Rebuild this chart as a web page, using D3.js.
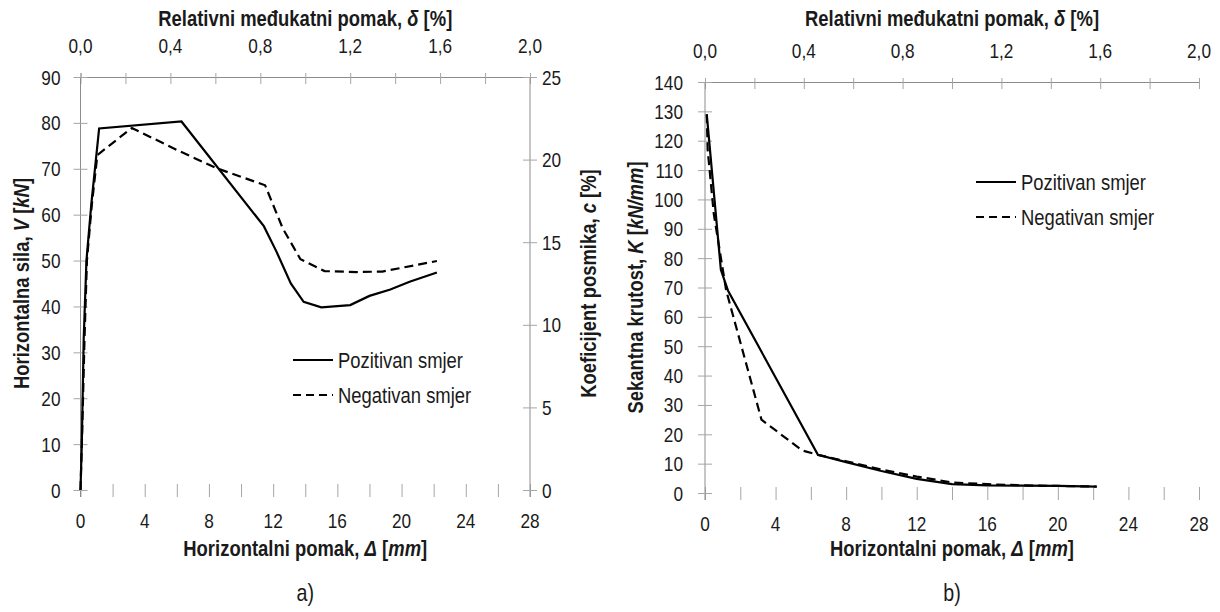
<!DOCTYPE html>
<html><head><meta charset="utf-8">
<script src="https://cdn.jsdelivr.net/npm/d3@7"></script>
<style>
body{margin:0;background:#fff}
svg{font-family:"Liberation Sans",Arial,sans-serif}
text{fill:#1a1a1a}
</style>
</head><body>
<svg id="chart" width="1220" height="612"></svg>
<script>
// ---------- data ----------
const dispTicks = [0, 4, 8, 12, 16, 20, 24, 28];
const dispMinorTicks = [0, 2, 4, 6, 8, 10, 12, 14, 16, 18, 20, 22, 24, 26, 28];
const driftTicks = [0, 0.4, 0.8, 1.2, 1.6, 2.0];
const driftMinorTicks = [0, 0.2, 0.4, 0.6, 0.8, 1.0, 1.2, 1.4, 1.6, 1.8, 2.0];
const forceTicks = [0, 10, 20, 30, 40, 50, 60, 70, 80, 90];
const coefTicks = [0, 5, 10, 15, 20, 25];
const stiffTicks = [0, 10, 20, 30, 40, 50, 60, 70, 80, 90, 100, 110, 120, 130, 140];
const seriesNames = ["Pozitivan smjer", "Negativan smjer"];

// a) force vs displacement
const forcePosDisp = [0, 0.08, 0.2, 0.37, 0.68, 1.16, 6.29, 11.42, 12.2, 13.1, 13.9, 15.0, 16.8, 18.0, 19.3, 20.5, 22.2];
const forcePosV    = [0, 10, 33, 50, 62.5, 78.8, 80.3, 57.5, 52, 45, 41, 39.8, 40.3, 42.3, 43.7, 45.4, 47.4];
const forceNegDisp = [0, 0.1, 0.25, 0.4, 0.7, 1.05, 3.2, 6.0, 8.5, 11.5, 12.6, 13.7, 15.2, 17.2, 18.8, 22.2];
const forceNegV    = [0, 12, 33, 50, 62, 73, 78.9, 74.1, 70.1, 66.4, 57, 50.3, 47.7, 47.5, 47.6, 49.9];

// b) secant stiffness vs displacement
const stiffPosDisp = [0.1, 0.9, 1.3, 6.4, 8, 10, 12, 14, 16, 18, 20, 22.2];
const stiffPosK    = [129, 76, 69, 13, 10.5, 7.5, 4.8, 3.0, 2.6, 2.5, 2.4, 2.2];
const stiffNegDisp = [0.1, 0.15, 0.5, 1.2, 3.2, 5.5, 6.4, 8, 10, 12, 14, 16, 18, 20, 22.2];
const stiffNegK    = [129, 117, 95, 69, 25, 14.5, 13, 10.8, 8, 5.6, 3.6, 3.0, 2.6, 2.4, 2.2];

// ---------- drawing ----------
const SX = 0.82;   // condensed look of the original typeface
const FS_TICK = 21, FS_TITLE = 22.5, FS_LEG = 22.5, FS_LAB = 24;
const svg = d3.select("#chart");
const AX = "#8c8c8c", TK = "#a6a6a6";
const fmtDrift = d => d3.format(".1f")(d).replace(".", ",");

// place condensed text at (x, y), optional rotation
function ctext(g, x, y, size, anchor, rot) {
  return g.append("text")
    .attr("transform", `translate(${x},${y})${rot ? ` rotate(${rot})` : ""} scale(${SX},1)`)
    .attr("font-size", size).attr("text-anchor", anchor);
}
function richText(t, parts) {
  parts.forEach(p => {
    const s = t.append("tspan").text(p.t);
    if (p.i) s.attr("font-style", "italic");
  });
  return t;
}

function panel(cfg) {
  const g = svg.append("g");
  const x = d3.scaleLinear().domain([0, 28]).range([cfg.x0, cfg.x1]);
  const xTop = d3.scaleLinear().domain([0, 2.0]).range([cfg.x0, cfg.x1]);
  const y = d3.scaleLinear().domain([0, cfg.yMax]).range([cfg.yBot, cfg.yTop]);

  // bottom axis: ticks only, no domain line
  const bAx = g.append("g").attr("transform", `translate(0,${cfg.yBot})`)
    .call(d3.axisBottom(x).tickValues(dispMinorTicks).tickSize(7).tickFormat(""));
  bAx.select(".domain").remove();
  bAx.selectAll(".tick line").attr("stroke", TK).attr("y1", -6);
  dispTicks.forEach(d => ctext(g, x(d), cfg.yBot + 38, FS_TICK, "middle").text(d));

  // top axis
  const tAx = g.append("g").attr("transform", `translate(0,${cfg.yTop})`)
    .call(d3.axisTop(xTop).tickValues(driftMinorTicks).tickSize(4).tickFormat(""));
  tAx.select(".domain").attr("stroke", AX);
  tAx.selectAll(".tick line").attr("stroke", TK).attr("y2", 7).attr("y1", -4);
  driftTicks.forEach(d => ctext(g, xTop(d), cfg.yTop - 24, FS_TICK, "middle").text(fmtDrift(d)));

  // left axis
  const lAx = g.append("g").attr("transform", `translate(${cfg.x0},0)`)
    .call(d3.axisLeft(y).tickValues(cfg.yTicks).tickSize(7).tickFormat(""));
  lAx.select(".domain").attr("stroke", AX).attr("d", `M0,${cfg.yTop}V${cfg.yBot + 7}`);
  lAx.selectAll(".tick line").attr("stroke", TK).attr("x2", 7).attr("x1", -7);
  cfg.yTicks.forEach(d => ctext(g, cfg.x0 - cfg.yLabGap, y(d) + 7.5, FS_TICK, "end").text(d));

  // right axis (optional)
  if (cfg.right) {
    const yR = d3.scaleLinear().domain([0, 25]).range([cfg.yBot, cfg.yTop]);
    const rAx = g.append("g").attr("transform", `translate(${cfg.x1},0)`)
      .call(d3.axisRight(yR).tickValues(coefTicks).tickSize(7).tickFormat(""));
    rAx.select(".domain").attr("stroke", AX).attr("d", `M0,${cfg.yTop}V${cfg.yBot + 7}`);
    rAx.selectAll(".tick line").attr("stroke", TK).attr("x1", -7).attr("x2", 7);
    coefTicks.forEach(d => ctext(g, cfg.x1 + 12, yR(d) + 7.5, FS_TICK, "start").text(d));
    richText(ctext(g, cfg.x1 + 66, (cfg.yTop + cfg.yBot) / 2, FS_TITLE, "middle", -90)
      .attr("font-weight", "bold"),
      [{t: "Koeficijent posmika, "}, {t: "c", i: 1}, {t: " [%]"}]);
  }

  // titles
  const cx = (cfg.x0 + cfg.x1) / 2;
  richText(ctext(g, cx, 26, FS_TITLE, "middle").attr("font-weight", "bold"),
    [{t: "Relativni međukatni pomak, "}, {t: "δ", i: 1}, {t: " [%]"}]);
  richText(ctext(g, cx, 556, FS_TITLE, "middle").attr("font-weight", "bold"),
    [{t: "Horizontalni pomak, "}, {t: "Δ", i: 1}, {t: " ["}, {t: "mm", i: 1}, {t: "]"}]);
  richText(ctext(g, cfg.yTitleX, (cfg.yTop + cfg.yBot) / 2, FS_TITLE, "middle", -90)
    .attr("font-weight", "bold"), cfg.yTitle);
  ctext(g, cx, 601, FS_LAB, "middle").text(cfg.label);

  // series
  const line = d3.line().x(d => x(d[0])).y(d => y(d[1]));
  const pos = cfg.posX.map((v, i) => [v, cfg.posY[i]]);
  const neg = cfg.negX.map((v, i) => [v, cfg.negY[i]]);
  g.append("path").datum(neg).attr("d", line).attr("fill", "none")
    .attr("stroke", "#000").attr("stroke-width", 2.2).attr("stroke-dasharray", "9,5");
  g.append("path").datum(pos).attr("d", line).attr("fill", "none")
    .attr("stroke", "#000").attr("stroke-width", 2.2);

  // legend
  const lg = g.append("g").attr("transform", `translate(${cfg.legX},${cfg.legY})`);
  seriesNames.forEach((name, i) => {
    lg.append("line").attr("x1", 0).attr("x2", 40).attr("y1", i * 35).attr("y2", i * 35)
      .attr("stroke", "#000").attr("stroke-width", 2)
      .attr("stroke-dasharray", i ? "8,5" : null);
    ctext(lg, 45, i * 35 + 8, FS_LEG, "start").text(name);
  });
}

panel({
  x0: 80.5, x1: 530, yTop: 77, yBot: 490, yMax: 90, yTicks: forceTicks, right: true, yLabGap: 20,
  yTitle: [{t: "Horizontalna sila, "}, {t: "V", i: 1}, {t: " ["}, {t: "kN", i: 1}, {t: "]"}],
  yTitleX: 29, label: "a)",
  posX: forcePosDisp, posY: forcePosV, negX: forceNegDisp, negY: forceNegV,
  legX: 293, legY: 360
});

panel({
  x0: 705, x1: 1199, yTop: 82, yBot: 493, yMax: 140, yTicks: stiffTicks, right: false, yLabGap: 22,
  yTitle: [{t: "Sekantna krutost, "}, {t: "K", i: 1}, {t: " ["}, {t: "kN/mm", i: 1}, {t: "]"}],
  yTitleX: 643, label: "b)",
  posX: stiffPosDisp, posY: stiffPosK, negX: stiffNegDisp, negY: stiffNegK,
  legX: 976, legY: 182
});
</script>
</body></html>
